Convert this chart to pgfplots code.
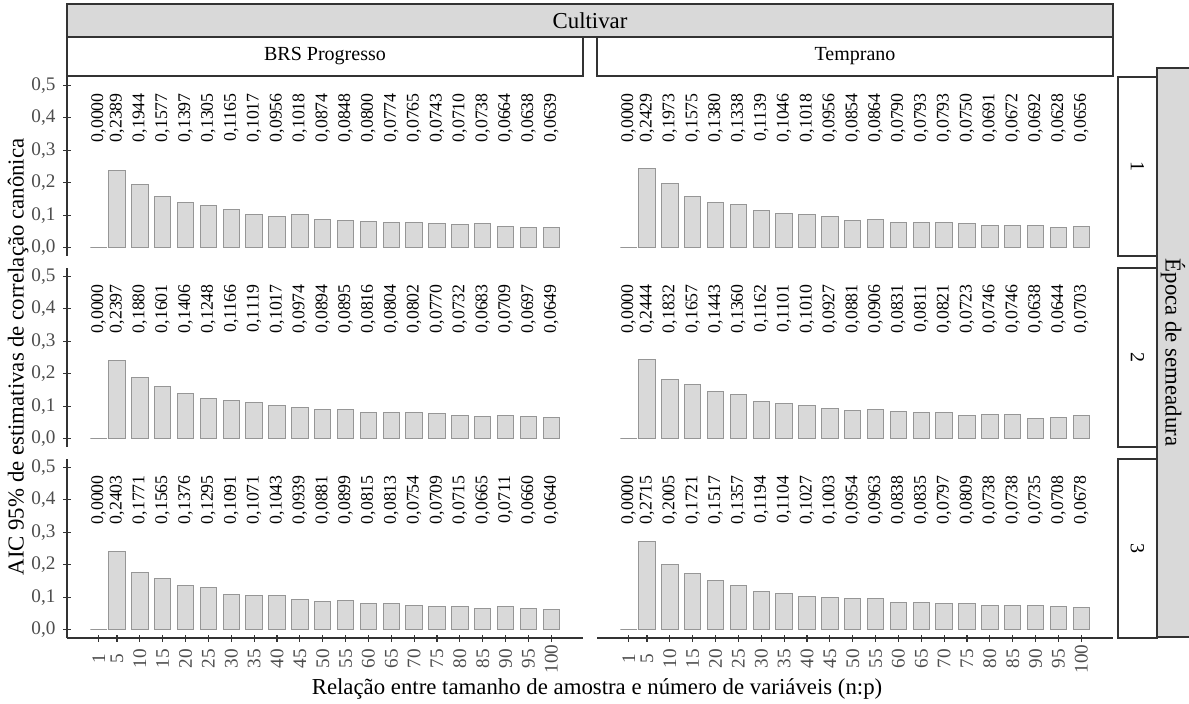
\documentclass[border=0pt]{standalone}
\usepackage{fontspec}
\setmainfont{Liberation Serif}
\usepackage{pgfplots}
\usepackage{pgfplotstable}
\pgfplotsset{compat=1.18}

\definecolor{barfill}{RGB}{217,217,217}
\definecolor{baredge}{RGB}{150,150,150}
\definecolor{stripgray}{RGB}{217,217,217}
\definecolor{axcol}{RGB}{51,51,51}
\definecolor{tickcol}{RGB}{77,77,77}

\pgfplotstableread{
x v
1 0.0000
5 0.2389
10 0.1944
15 0.1577
20 0.1397
25 0.1305
30 0.1165
35 0.1017
40 0.0956
45 0.1018
50 0.0874
55 0.0848
60 0.0800
65 0.0774
70 0.0765
75 0.0743
80 0.0710
85 0.0738
90 0.0664
95 0.0638
100 0.0639
}\tAA
\pgfplotstableread{
x v
1 0.0000
5 0.2429
10 0.1973
15 0.1575
20 0.1380
25 0.1338
30 0.1139
35 0.1046
40 0.1018
45 0.0956
50 0.0854
55 0.0864
60 0.0790
65 0.0793
70 0.0793
75 0.0750
80 0.0691
85 0.0672
90 0.0692
95 0.0628
100 0.0656
}\tAB
\pgfplotstableread{
x v
1 0.0000
5 0.2397
10 0.1880
15 0.1601
20 0.1406
25 0.1248
30 0.1166
35 0.1119
40 0.1017
45 0.0974
50 0.0894
55 0.0895
60 0.0816
65 0.0804
70 0.0802
75 0.0770
80 0.0732
85 0.0683
90 0.0709
95 0.0697
100 0.0649
}\tBA
\pgfplotstableread{
x v
1 0.0000
5 0.2444
10 0.1832
15 0.1657
20 0.1443
25 0.1360
30 0.1162
35 0.1101
40 0.1010
45 0.0927
50 0.0881
55 0.0906
60 0.0831
65 0.0811
70 0.0821
75 0.0723
80 0.0746
85 0.0746
90 0.0638
95 0.0644
100 0.0703
}\tBB
\pgfplotstableread{
x v
1 0.0000
5 0.2403
10 0.1771
15 0.1565
20 0.1376
25 0.1295
30 0.1091
35 0.1071
40 0.1043
45 0.0939
50 0.0881
55 0.0899
60 0.0815
65 0.0813
70 0.0754
75 0.0709
80 0.0715
85 0.0665
90 0.0711
95 0.0660
100 0.0640
}\tCA
\pgfplotstableread{
x v
1 0.0000
5 0.2715
10 0.2005
15 0.1721
20 0.1517
25 0.1357
30 0.1194
35 0.1104
40 0.1027
45 0.1003
50 0.0954
55 0.0963
60 0.0838
65 0.0835
70 0.0797
75 0.0809
80 0.0738
85 0.0738
90 0.0735
95 0.0708
100 0.0678
}\tCB

\newcommand{\labfont}{\fontsize{8.9}{10}\selectfont}
\newcommand{\tickfont}{\fontsize{9.6}{10}\selectfont}
\newcommand{\titlefont}{\fontsize{11.4}{13}\selectfont}

\pgfplotsset{
  panel/.style={
    scale only axis, width=258pt, height=89.5pt, anchor=south west,
    xmin=-5.93, xmax=106.93, ymin=-0.025, ymax=0.525,
    major tick style={draw=axcol, line width=0.6pt},
    tick align=outside, major tick length=3.5pt,
    ytick={0,0.1,0.2,0.3,0.4,0.5},
    yticklabel={\pgfmathprintnumber[fixed,fixed zerofill,precision=1,use comma,assume math mode=true]{\tick}},
    yticklabel style={font=\tickfont, text=tickcol, xshift=-0.5pt},
    xtick={1,5,10,15,20,25,30,35,40,45,50,55,60,65,70,75,80,85,90,95,100},
    xticklabels={1,5,10,15,20,25,30,35,40,45,50,55,60,65,70,75,80,85,90,95,100},
    xticklabel={\makebox[1.5em][c]{\tickfont\pgfmathprintnumber[assume math mode=true]{\tick}}},
    xticklabel style={rotate=90, anchor=east, text=tickcol, inner sep=1pt},
    clip=false,
  },
  noarrows/.style={
    axis line style={-, draw=axcol, line width=0.6pt},
    every outer x axis line/.append style={-},
    every outer y axis line/.append style={-},
    every inner x axis line/.append style={-},
    every inner y axis line/.append style={-},
  },
  leftcol/.style={panel, axis y line=left},
  rightcol/.style={panel, axis y line=none},
  toprow/.style={axis x line=none, noarrows},
  botrow/.style={axis x line=bottom, noarrows},
}

\newcommand{\panelplots}[1]{%
  \addplot[ybar, bar width=3.6, fill=barfill, draw=baredge, line width=0.5pt] table[x=x, y=v] {#1};
  \addplot[draw=none, mark=none, point meta=\thisrow{v},
    nodes near coords={\pgfmathprintnumber[fixed,fixed zerofill,precision=4,use comma,assume math mode=true]{\pgfplotspointmeta}},
    every node near coord/.append style={rotate=90, anchor=center, font=\labfont, text=black, inner sep=0pt}]
    table[x=x, y expr=0.4] {#1};
}

\begin{document}
\begin{tikzpicture}
\useasboundingbox (0,0) rectangle (594.5pt,351.5pt);

% row 1
\begin{axis}[leftcol, toprow, at={(33.5pt,223.5pt)}]
\panelplots{\tAA}
\end{axis}
\begin{axis}[rightcol, toprow, at={(298.5pt,223.5pt)}]
\panelplots{\tAB}
\end{axis}
% row 2
\begin{axis}[leftcol, toprow, at={(33.5pt,128pt)}]
\panelplots{\tBA}
\end{axis}
\begin{axis}[rightcol, toprow, at={(298.5pt,128pt)}]
\panelplots{\tBB}
\end{axis}
% row 3
\begin{axis}[leftcol, botrow, at={(33.5pt,32.5pt)}]
\panelplots{\tCA}
\end{axis}
\begin{axis}[rightcol, botrow, at={(298.5pt,32.5pt)}]
\panelplots{\tCB}
\end{axis}

% strips
\draw[draw=axcol, line width=0.7pt, fill=stripgray] (33.5pt,333pt) rectangle (556.5pt,349.5pt);
\node[font=\titlefont] at (295pt,341.25pt) {Cultivar};
\draw[draw=axcol, line width=0.8pt, fill=white] (33.5pt,313.5pt) rectangle (291.5pt,333pt);
\node[font=\fontsize{10}{12}\selectfont] at (162.5pt,323.25pt) {BRS Progresso};
\draw[draw=axcol, line width=0.8pt, fill=white] (298.5pt,313.5pt) rectangle (556.5pt,333pt);
\node[font=\fontsize{10}{12}\selectfont] at (427.5pt,323.25pt) {Temprano};

\draw[draw=axcol, line width=0.8pt, fill=white] (559pt,223.5pt) rectangle (578.5pt,313pt);
\node[font=\fontsize{10}{12}\selectfont, rotate=-90] at (568.75pt,268.25pt) {1};
\draw[draw=axcol, line width=0.8pt, fill=white] (559pt,128pt) rectangle (578.5pt,217.5pt);
\node[font=\fontsize{10}{12}\selectfont, rotate=-90] at (568.75pt,172.75pt) {2};
\draw[draw=axcol, line width=0.8pt, fill=white] (559pt,32.5pt) rectangle (578.5pt,122pt);
\node[font=\fontsize{10}{12}\selectfont, rotate=-90] at (568.75pt,77.25pt) {3};
\draw[draw=axcol, line width=0.7pt, fill=stripgray] (578.5pt,33pt) rectangle (600pt,317.5pt);
\node[font=\titlefont, rotate=-90] at (586.5pt,175.25pt) {Época de semeadura};

% axis titles
\node[font=\titlefont, rotate=90] at (9pt,173pt) {AIC 95\% de estimativas de correlação canônica};
\node[font=\titlefont] at (298.5pt,7pt) {Relação entre tamanho de amostra e número de variáveis (n:p)};
\end{tikzpicture}
\end{document}
